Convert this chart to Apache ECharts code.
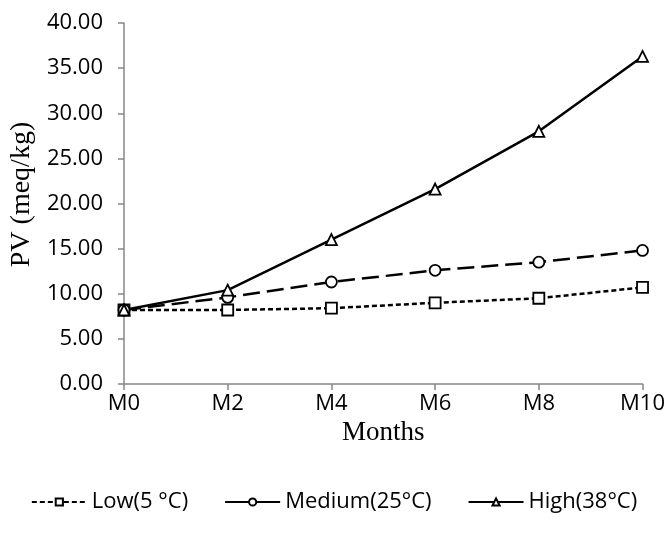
<!DOCTYPE html>
<html>
<head>
<meta charset="utf-8">
<script src="https://cdn.jsdelivr.net/npm/echarts@6/dist/echarts.min.js"></script>
<style>
  html, body { margin: 0; padding: 0; background: #fff; }
  #chart { width: 668px; height: 533px; }
</style>
</head>
<body>
<div id="chart"></div>
<script>
// 月份
var months = ['M0', 'M2', 'M4', 'M6', 'M8', 'M10'];
// 三个温度下的PV值
var lowVals = [8.2, 8.2, 8.4, 9.0, 9.5, 10.7];
var mediumVals = [8.2, 9.6, 11.3, 12.6, 13.5, 14.8];
var highVals = [8.2, 10.4, 16.0, 21.6, 28.0, 36.3];
var seriesNames = ['Low(5 °C)', 'Medium(25°C)', 'High(38°C)'];

var axisColor = '#868686';
var labelFont = 'Open Sans';
var titleFont = 'Liberation Serif';

var chart = echarts.init(document.getElementById('chart'));

function lineSeries(name, data, symbol, dash) {
  return {
    name: name,
    type: 'line',
    data: data,
    symbol: symbol,
    symbolSize: 11,
    showAllSymbol: true,
    color: '#000',
    lineStyle: { color: '#000', width: 2.5, type: dash },
    itemStyle: { color: '#fff', borderColor: '#000', borderWidth: 1.8 },
    emphasis: { disabled: true },
    animation: false
  };
}

chart.setOption({
  backgroundColor: '#fff',
  grid: { left: 122, right: 22, top: 23, bottom: 149 },
  xAxis: {
    type: 'category',
    data: months,
    boundaryGap: false,
    name: 'Months',
    nameLocation: 'middle',
    nameGap: 32,
    nameTextStyle: { fontFamily: titleFont, fontSize: 27, color: '#000' },
    axisLine: { lineStyle: { color: axisColor, width: 1.5 } },
    axisTick: { alignWithLabel: true, length: 6, lineStyle: { color: axisColor, width: 1.5 } },
    axisLabel: { fontFamily: labelFont, fontSize: 22, color: '#000', margin: 9 },
    splitLine: { show: false }
  },
  yAxis: {
    type: 'value',
    min: 0,
    max: 40,
    interval: 5,
    name: 'PV (meq/kg)',
    nameLocation: 'middle',
    nameGap: 82,
    nameTextStyle: {
      fontFamily: titleFont, fontSize: 28, color: '#000',
      padding: [0, 0, 0, 18]
    },
    axisLine: { show: true, lineStyle: { color: axisColor, width: 1.5 } },
    axisTick: { show: true, length: 6, lineStyle: { color: axisColor, width: 1.5 } },
    axisLabel: {
      fontFamily: labelFont, fontSize: 22, color: '#000', margin: 21,
      formatter: function (v) { return v.toFixed(2); }
    },
    splitLine: { show: false }
  },
  legend: {
    bottom: 15,
    left: 'center',
    itemWidth: 55,
    itemHeight: 9,
    itemGap: 36,
    textStyle: { fontFamily: labelFont, fontSize: 22, color: '#000' },
    data: [
      { name: seriesNames[0] },
      { name: seriesNames[1], lineStyle: { type: 'solid' } },
      { name: seriesNames[2] }
    ]
  },
  series: [
    lineSeries(seriesNames[0], lowVals, 'rect', [5, 3]),
    lineSeries(seriesNames[1], mediumVals, 'circle', [17, 7]),
    lineSeries(seriesNames[2], highVals, 'triangle', 'solid')
  ]
});
</script>
</body>
</html>
